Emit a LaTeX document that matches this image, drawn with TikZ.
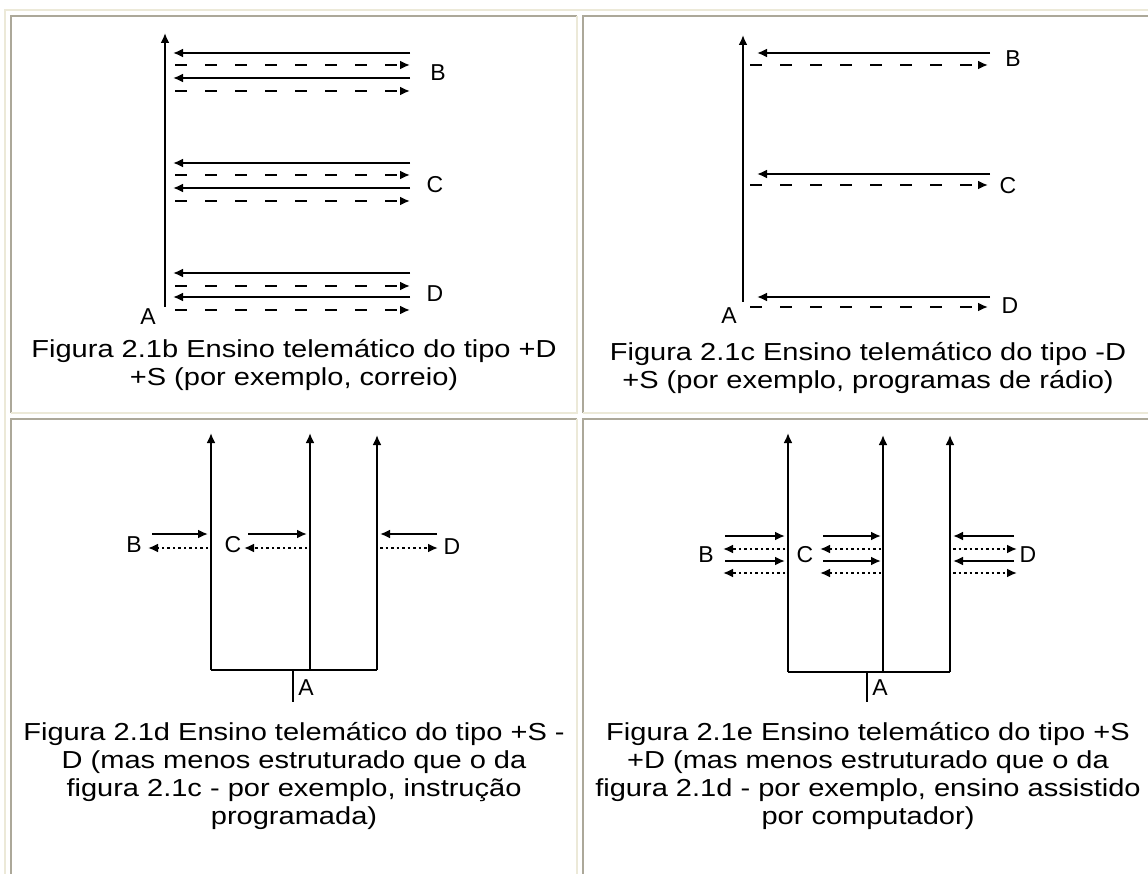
\documentclass[tikz,border=0pt]{standalone}
\usepackage{fontspec}
\usetikzlibrary{arrows.meta}
\newfontfamily\capfont[FakeStretch=1.18]{Liberation Sans}
\newfontfamily\lblfont{Liberation Sans}
\definecolor{bdlight}{HTML}{ECE9D8}
\definecolor{bddark}{HTML}{ACA899}
\tikzset{
  ln/.style={line width=2pt, black},
  tipr/.style={-{Latex[length=10pt,width=9pt]}},
  sol/.style={ln, tipr},
  dsh/.style={ln, tipr, dash pattern=on 12pt off 18pt},
  dotln/.style={ln, tipr, line width=2pt, dash pattern=on 2.5pt off 3pt},
  lbl/.style={font=\lblfont\fontsize{23}{25}\selectfont, inner sep=0pt},
  captext/.style={font=\capfont\fontsize{24.6}{28.3}\selectfont, align=center, inner sep=0pt},
  bdl/.style={draw=bdlight, line width=2pt},
  bdd/.style={draw=bddark, line width=2pt}
}
\begin{document}
\begin{tikzpicture}[x=1pt,y=-1pt]
\useasboundingbox (0,0) rectangle (1148,874);
\fill[white] (0,0) rectangle (1148,874);
\clip (0,0) rectangle (1148,874);
% table outer border
\draw[bdl] (5,880) -- (5,10) -- (1160,10);
% cells
\foreach \xa/\ya/\xb/\yb in {11/16/577/413, 583/16/1160/413, 11/419/577/880, 583/419/1160/880}{
  \draw[bdd] (\xa,\yb) -- (\xa,\ya) -- (\xb,\ya);
  \draw[bdl] (\xb,\ya) -- (\xb,\yb) -- (\xa,\yb);
}
% ---------- Panel 1 ----------
\coordinate (p1bot) at (165,307);
\coordinate (p1top) at (165,33);
\draw[sol] (p1bot) -- (p1top);
\node[lbl] (A1) at (148,317) {A};
\node[lbl] (B1) at (438,73) {B};
\node[lbl] (C1) at (435,185) {C};
\node[lbl] (D1) at (435,294) {D};
\foreach \y in {53,78,163,188,273,297}{
  \draw[sol] (410,\y) -- (173,\y);
}
\foreach \y in {65,91,175,201,286,310}{
  \draw[dsh] (175,\y) -- (410,\y);
}
% ---------- Panel 2 ----------
\coordinate (p2bot) at (743,302);
\coordinate (p2top) at (743,35);
\draw[sol] (p2bot) -- (p2top);
\node[lbl] (A2) at (729,316) {A};
\node[lbl] (B2) at (1013,59) {B};
\node[lbl] (C2) at (1008,186) {C};
\node[lbl] (D2) at (1010,306) {D};
\foreach \y in {53,174,297}{
  \draw[sol] (990,\y) -- (757,\y);
}
\foreach \y in {65,185,307}{
  \draw[dsh] (750,\y) -- (988,\y);
}
% ---------- Panel 3 ----------
\coordinate (p3l) at (211,670);
\coordinate (p3m) at (310,670);
\coordinate (p3r) at (377,670);
\coordinate (p3s) at (293,670);
\coordinate (p3e) at (293,702);
\draw[sol] (p3l) -- (211,433);
\draw[sol] (p3m) -- (310,433);
\draw[sol] (p3r) -- (377,435);
\draw[ln] (p3l) -- (p3r);
\draw[ln] (p3s) -- (p3e);
\node[lbl] (A3) at (306,688) {A};
\node[lbl] (B3) at (134,545) {B};
\node[lbl] (C3) at (233,545) {C};
\node[lbl] (D3) at (452,547) {D};
\draw[sol] (152,534) -- (208,534);
\draw[dotln] (208,548) -- (148,548);
\draw[sol] (248,534) -- (307,534);
\draw[dotln] (307,548) -- (244,548);
\draw[sol] (437,534) -- (380,534);
\draw[dotln] (380,548) -- (438,548);
% ---------- Panel 4 ----------
\coordinate (p4l) at (788,672);
\coordinate (p4m) at (883,672);
\coordinate (p4r) at (950,672);
\coordinate (p4s) at (867,672);
\coordinate (p4e) at (867,702);
\draw[sol] (p4l) -- (788,433);
\draw[sol] (p4m) -- (883,435);
\draw[sol] (p4r) -- (950,435);
\draw[ln] (p4l) -- (p4r);
\draw[ln] (p4s) -- (p4e);
\node[lbl] (A4) at (880,688) {A};
\node[lbl] (B4) at (706,555) {B};
\node[lbl] (C4) at (805,555) {C};
\node[lbl] (D4) at (1028,555) {D};
\foreach \y in {536,561}{
  \draw[sol] (725,\y) -- (785,\y);
  \draw[sol] (823,\y) -- (881,\y);
  \draw[sol] (1014,\y) -- (953,\y);
}
\foreach \y in {549,573}{
  \draw[dotln] (785,\y) -- (723,\y);
  \draw[dotln] (881,\y) -- (820,\y);
  \draw[dotln] (953,\y) -- (1017,\y);
}
% ---------- Captions ----------
\node[captext] (cap1) at (294,365) {Figura 2.1b Ensino telemático do tipo +D\\+S (por exemplo, correio)};
\node[captext] (cap2) at (868,368) {Figura 2.1c Ensino telemático do tipo -D\\+S (por exemplo, programas de rádio)};
\node[captext] (cap3) at (294,776) {Figura 2.1d Ensino telemático do tipo +S -\\D (mas menos estruturado que o da\\figura 2.1c - por exemplo, instrução\\programada)};
\node[captext] (cap4) at (868,776) {Figura 2.1e Ensino telemático do tipo +S\\+D (mas menos estruturado que o da\\figura 2.1d - por exemplo, ensino assistido\\por computador)};
\end{tikzpicture}
\end{document}
